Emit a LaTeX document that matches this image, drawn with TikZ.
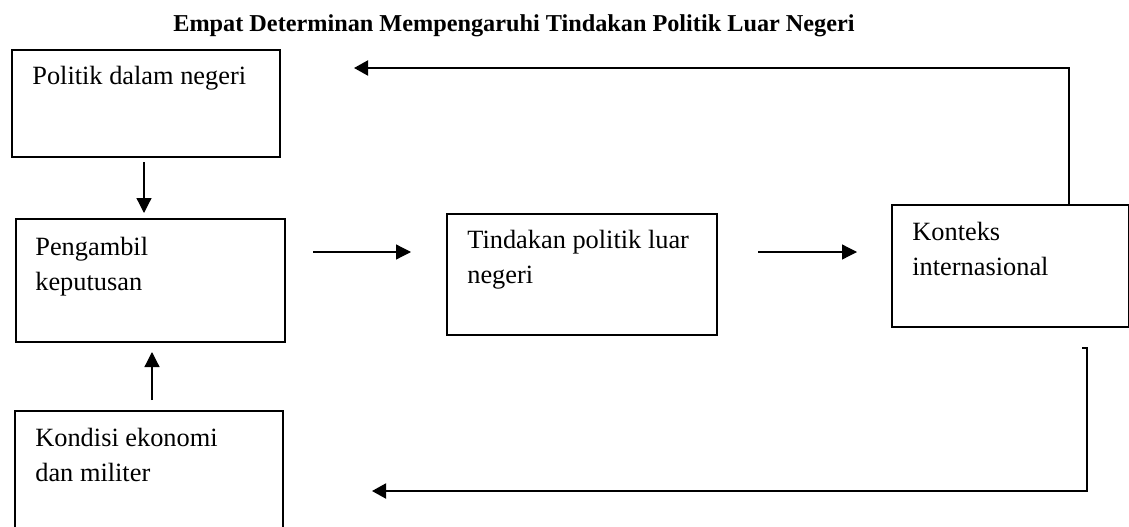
\documentclass[tikz,border=0pt]{standalone}
\usepackage{fontspec}
\setmainfont{Liberation Serif}
\usetikzlibrary{arrows.meta}

\tikzset{
  kotak/.style={draw, line width=0.9pt, inner sep=0pt, anchor=north west},
  teks/.style={anchor=base west, inner sep=0pt, align=left,
    font=\fontsize{15}{19.9}\selectfont},
  panah/.style={line width=0.7pt, -{Triangle[length=0.3cm,width=0.3cm]}},
  balik/.style={line width=1.1pt, -{Triangle[length=0.28cm,width=0.3cm]}}
}

\begin{document}
\begin{tikzpicture}

      \useasboundingbox (0,0) rectangle (22.58,-10.54);

      % Title
      \node[anchor=base, inner sep=0pt, font=\fontsize{13.8}{16}\selectfont\bfseries] (judul) at (10.28,-0.64)
        {Empat Determinan Mempengaruhi Tindakan Politik Luar Negeri};

      % Boxes
      \node[kotak, minimum width=5.36cm, minimum height=2.14cm] (politik) at (0.22,-0.98) {};
      \node[kotak, minimum width=5.38cm, minimum height=2.46cm] (pengambil) at (0.30,-4.36) {};
      \node[kotak, minimum width=5.40cm, minimum height=2.42cm] (tindakan) at (8.92,-4.26) {};
      \node[kotak, minimum width=4.74cm, minimum height=2.44cm] (konteks) at (17.82,-4.08) {};
      \node[kotak, minimum width=5.36cm, minimum height=3.00cm] (kondisi) at (0.28,-8.20) {};

      % Labels (anchored on the last line)
      \node[teks] (tpolitik) at (0.64,-1.70) {Politik dalam negeri};
      \node[teks] (tpengambil) at (0.70,-5.80) {Pengambil\\keputusan};
      \node[teks] (ttindakan) at (9.34,-5.66) {Tindakan politik luar\\negeri};
      \node[teks] (tkonteks) at (18.24,-5.50) {Konteks\\internasional};
      \node[teks] (tkondisi) at (0.70,-9.62) {Kondisi ekonomi\\dan militer};

      % Arrow ends
      \coordinate (p1) at (2.88,-3.24);
      \coordinate (p2) at (2.88,-4.26);
      \coordinate (k1) at (3.04,-8.00);
      \coordinate (k2) at (3.04,-7.04);
      \coordinate (a1) at (6.26,-5.04);
      \coordinate (a2) at (8.22,-5.04);
      \coordinate (b1) at (15.16,-5.04);
      \coordinate (b2) at (17.14,-5.04);
      \coordinate (atas) at (7.08,-1.36);
      \coordinate (sudut) at (21.38,-1.36);
      \coordinate (kait) at (21.64,-6.96);
      \coordinate (bawah) at (7.44,-9.82);

      % Arrows
      \draw[panah] (p1) -- (p2);
      \draw[panah] (k1) -- (k2);
      \draw[panah] (a1) -- (a2);
      \draw[panah] (b1) -- (b2);

      % Feedback
      \draw[balik] (sudut |- konteks.north) -- (sudut) -- (atas);
      \draw[balik] (kait) -- ++(0.10,0) |- (bawah);

    \end{tikzpicture}
\end{document}
